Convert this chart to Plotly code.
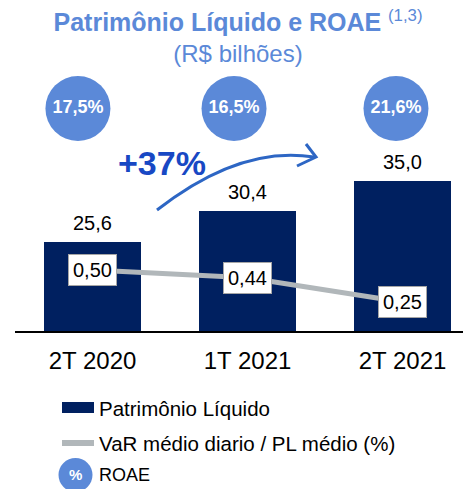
import plotly.graph_objects as go

# ---- data ----
categories = ["2T 2020", "1T 2021", "2T 2021"]
patrimonio = [25.6, 30.4, 35.0]
var_pl = [0.50, 0.44, 0.25]
roae = [17.5, 16.5, 21.6]
growth_label = "+37%"
name_pl = "Patrimônio Líquido"
name_var = "VaR médio diario / PL médio (%)"
name_roae = "ROAE"

# ---- style ----
FONT = "Arial, Liberation Sans, sans-serif"
NAVY = "#002060"
GREY = "#B1B7BA"
CIRCLE = "#5B89D8"
TITLE_C = "#5B89D8"
PLUS_C = "#1848C4"
ARROW_C = "#2D66C4"

# page has an 8px body margin; figure sized to fit the window
PAGE_OFF = 8
W, H = 471 - PAGE_OFF, 489 - PAGE_OFF
PLOT_L, PLOT_T, PLOT_R, PLOT_B = 15, 8, 471, 331   # page coords of plot area
PW, PH = PLOT_R - PLOT_L, PLOT_B - PLOT_T


def fx(x):
    return (x - PLOT_L) / PW


def fy(y):
    return (PLOT_B - y) / PH


def br(v, d):
    return f"{v:.{d}f}".replace(".", ",")


xs = list(range(len(categories)))
roae_shift = [-0.094, -0.087, -0.042]
roae_level = 46.2

fig = go.Figure()

fig.add_trace(go.Bar(
    x=xs, y=patrimonio, name=name_pl, width=0.626,
    marker=dict(color=NAVY, line=dict(width=0)),
))

fig.add_trace(go.Scatter(
    x=xs, y=var_pl, name=name_var, yaxis="y2", mode="lines",
    line=dict(color=GREY, width=5),
))

fig.add_trace(go.Scatter(
    x=[i + s for i, s in zip(xs, roae_shift)], y=[roae_level] * len(roae),
    name=name_roae, mode="markers+text",
    marker=dict(size=65, color=CIRCLE, line=dict(width=0)),
    text=[br(v, 1) + "%" for v in roae], textposition="middle center",
    textfont=dict(family=FONT, size=18, color="white", weight="bold"),
))

annotations = []
for i, v in enumerate(patrimonio):
    annotations.append(dict(
        x=i, y=v, xref="x", yref="y", text=br(v, 1), showarrow=False,
        xanchor="center", yanchor="bottom", yshift=6,
        font=dict(family=FONT, size=20, color="black"),
    ))
for i, v in enumerate(var_pl):
    annotations.append(dict(
        x=i, y=v, xref="x", yref="y2", text=br(v, 2), showarrow=False,
        xanchor="center", yanchor="middle",
        bgcolor="white", bordercolor="#A6A6A6", borderwidth=1, borderpad=4,
        font=dict(family=FONT, size=20, color="black"),
    ))

annotations.append(dict(
    x=fx(162), y=fy(163), xref="paper", yref="paper", text=f"<b>{growth_label}</b>",
    showarrow=False, xanchor="center", yanchor="middle",
    font=dict(family=FONT, size=34, color=PLUS_C),
))

# legend (custom)
leg_items = [(name_pl, 408, 20.5), (name_var, 443, 20.5), (name_roae, 475, 18)]
for name, yy, fs in leg_items:
    annotations.append(dict(
        x=fx(97), y=fy(yy), xref="paper", yref="paper", text=name,
        showarrow=False, xanchor="left", yanchor="middle",
        font=dict(family=FONT, size=fs, color="black"),
    ))
annotations.append(dict(
    x=fx(75.5), y=fy(474), xref="paper", yref="paper", text="<b>%</b>",
    showarrow=False, xanchor="center", yanchor="middle",
    font=dict(family=FONT, size=15, color="white"),
))

shapes = [
    dict(type="path", xref="paper", yref="paper",
         path=f"M {fx(157)},{fy(210)} Q {fx(240)},{fy(145)} {fx(314)},{fy(157)}",
         line=dict(color=ARROW_C, width=3)),
    dict(type="path", xref="paper", yref="paper",
         path=f"M {fx(306)},{fy(144)} L {fx(316)},{fy(157)} L {fx(297)},{fy(166)}",
         line=dict(color=ARROW_C, width=3)),
    dict(type="rect", xref="paper", yref="paper",
         x0=fx(62), x1=fx(94), y0=fy(402), y1=fy(413),
         fillcolor=NAVY, line=dict(width=0)),
    dict(type="line", xref="paper", yref="paper",
         x0=fx(62), x1=fx(94), y0=fy(443), y1=fy(443),
         line=dict(color=GREY, width=6)),
    dict(type="circle", xref="paper", yref="paper",
         x0=fx(58.5), x1=fx(92.5), y0=fy(458), y1=fy(492),
         fillcolor=CIRCLE, line=dict(width=0)),
]

y_lo, y_px = 11.87, 6.48
y2_lo, y2_px = 0.0234, 128.0

fig.update_layout(
    width=W, height=H,
    margin=dict(l=PLOT_L - PAGE_OFF, r=0, t=PLOT_T - PAGE_OFF, b=489 - PLOT_B, pad=0),
    paper_bgcolor="white", plot_bgcolor="white",
    showlegend=False,
    title=dict(
        text=("<span style='font-size:25px'><b>Patrimônio Líquido e ROAE</b></span>"
              " <sup>(1,3)</sup><br>(R$ bilhões)"),
        x=(238 - PAGE_OFF) / W, xanchor="center", xref="container",
        y=1 - 23 / H, yanchor="top", yref="container",
        font=dict(family=FONT, size=24, color=TITLE_C),
    ),
    xaxis=dict(
        range=[-0.5, -0.5 + PW / 155], tickmode="array", tickvals=xs, ticktext=categories,
        showgrid=False, zeroline=False, showline=True, linecolor="black", linewidth=1.5,
        ticks="", ticklabelstandoff=7,
        tickfont=dict(family=FONT, size=24, color="black"),
    ),
    yaxis=dict(range=[y_lo, y_lo + PH / y_px], visible=False, showgrid=False, zeroline=False),
    yaxis2=dict(range=[y2_lo, y2_lo + PH / y2_px], overlaying="y", visible=False,
                showgrid=False, zeroline=False),
    annotations=annotations,
    shapes=shapes,
    bargap=0,
)

fig.write_html("out.html")
